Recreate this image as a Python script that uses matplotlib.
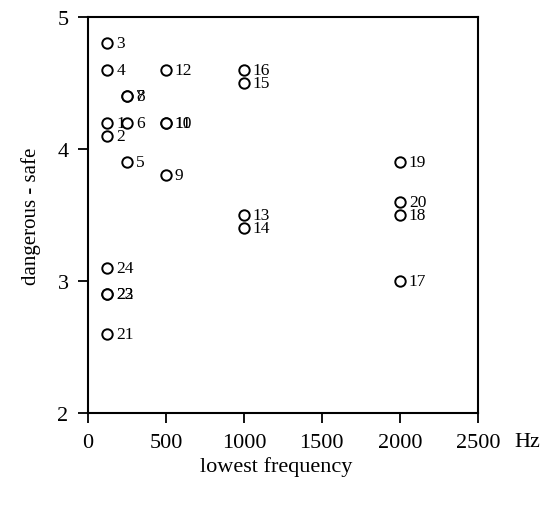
import matplotlib
matplotlib.use("Agg")
import matplotlib.pyplot as plt

plt.rcParams["font.family"] = ["Liberation Serif", "DejaVu Serif"]

# point number, lowest frequency (Hz), rating
labels = ["1", "2", "3", "4", "5", "6", "7", "8", "9", "10", "11", "12",
          "13", "14", "15", "16", "17", "18", "19", "20", "21", "22", "23", "24"]
freq = [125, 125, 125, 125, 250, 250, 250, 250, 500, 500, 500, 500,
        1000, 1000, 1000, 1000, 2000, 2000, 2000, 2000, 125, 125, 125, 125]
rating = [4.2, 4.1, 4.8, 4.6, 3.9, 4.2, 4.4, 4.4, 3.8, 4.2, 4.2, 4.6,
          3.5, 3.4, 4.5, 4.6, 3.0, 3.5, 3.9, 3.6, 2.6, 2.9, 2.9, 3.1]

xticks = [0, 500, 1000, 1500, 2000, 2500]
yticks = [2, 3, 4, 5]

fig = plt.figure(figsize=(5.53, 5.10), dpi=100)
ax = fig.add_axes([0.159, 0.188, 0.705, 0.777])

ax.plot(freq, rating, "o", ms=7.5, mfc="white", mec="black", mew=1.4, ls="none")
for lab, x, y in zip(labels, freq, rating):
    ax.annotate(lab, (x, y), xytext=(6.5, 0), textcoords="offset points",
                ha="left", va="center", fontsize=12.5)

ax.set_xlim(0, 2500)
ax.set_ylim(2, 5)
ax.set_xticks(xticks)
ax.set_yticks(yticks)
ax.tick_params(direction="out", length=7, width=1.3, labelsize=16, pad=7)
for s in ax.spines.values():
    s.set_linewidth(1.5)

ax.set_ylabel("dangerous - safe", fontsize=15, labelpad=12)
fig.text(0.93, 0.133, "Hz", fontsize=16, ha="left", va="center")
fig.text(0.5, 0.085, "lowest frequency", fontsize=16, ha="center", va="center")

fig.savefig("out.png", dpi=100)
